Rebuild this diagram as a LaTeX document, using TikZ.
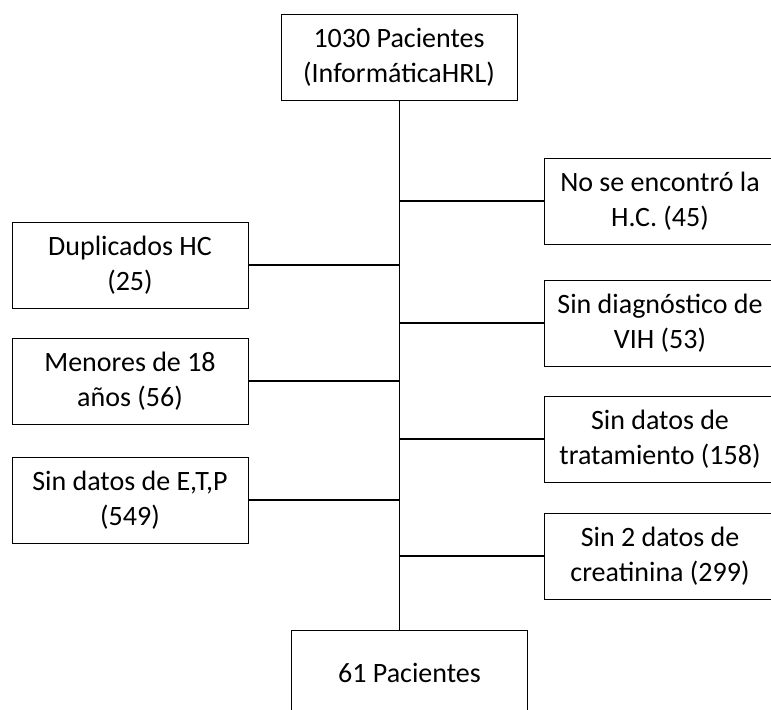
\documentclass[tikz,border=0pt]{standalone}
\usepackage{fontspec}
\setmainfont{Carlito}
\usepackage{tikz}

\begin{document}
\begin{tikzpicture}[x=0.5pt,y=0.5pt]
    \tikzstyle{every node}+=[inner sep=0pt, align=center, font=\fontsize{14}{17.5}\selectfont]
    \tikzstyle{box}=[draw=black, line width=0.5pt, minimum width=118pt, minimum height=43pt]
    \tikzstyle{sidebox}=[box, minimum width=116pt]
    \tikzstyle{link}=[black, line width=0.65pt]
    \clip (0,0) rectangle (771,-709);
    % main boxes
    \draw (399,-57) node [box] (top) {1030 Pacientes\\(InformáticaHRL)};
    \draw (409.5,-673) node [box] (bot) {61 Pacientes};
    \draw [link, line width=0.5pt] (top.south) -- (top.south |- bot.north);
    % left side
    \draw (130,-265) node [box] (dup) {Duplicados HC\\(25)};
    \draw (130,-381) node [box] (men) {Menores de 18\\años (56)};
    \draw (130,-500) node [box] (etp) {Sin datos de E,T,P\\(549)};
    \draw [link] (dup.east) -- (dup.east -| top.south);
    \draw [link] (men.east) -- (men.east -| top.south);
    \draw [link] (etp.east) -- (etp.east -| top.south);
    % right side
    \draw (660,-201) node [sidebox] (hc) {No se encontró la\\H.C. (45)};
    \draw (660,-323) node [sidebox] (vih) {Sin diagnóstico de\\VIH (53)};
    \draw (660,-439) node [sidebox] (trat) {Sin datos de\\tratamiento (158)};
    \draw (660,-556) node [sidebox] (crea) {Sin 2 datos de\\creatinina (299)};
    \draw [link] (hc.west) -- (hc.west -| top.south);
    \draw [link] (vih.west) -- (vih.west -| top.south);
    \draw [link] (trat.west) -- (trat.west -| top.south);
    \draw [link] (crea.west) -- (crea.west -| top.south);
\end{tikzpicture}
\end{document}
